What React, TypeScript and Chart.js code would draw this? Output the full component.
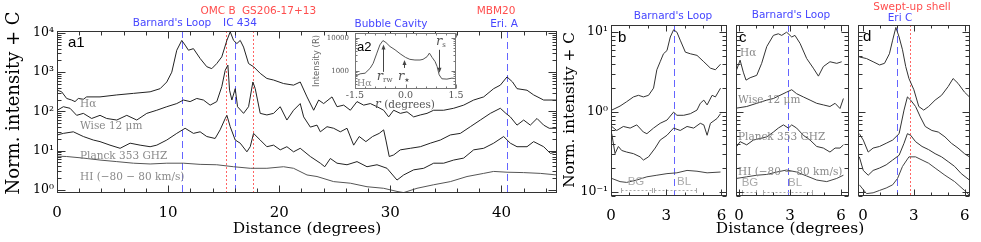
import { useEffect, useRef } from 'react';
import { Chart, registerables } from 'chart.js';
Chart.register(...registerables);

const W = 981;
const H = 242;
const SERIF = 'DejaVu Serif';
const SANS = 'DejaVu Sans';
const HELV = 'Liberation Sans';
const BLUE = '#4646ff';
const RED = '#ff4d4d';
const GRAY = '#8a8a8a';

// ---------- panel a1 (log10 of normalised intensity + C) ----------
const a1HaDist = [0.03, 0.42, 0.87, 1.32, 1.62, 1.92, 2.37, 2.67, 3.87, 5.38, 6.88, 8.38, 9.28, 9.88, 10.33, 10.78, 11.23, 11.53, 11.83, 12.28, 12.88, 13.48, 13.93, 14.38, 14.83, 15.29, 15.59, 15.89, 16.19, 16.49, 16.79, 17.24, 17.69, 18.29, 18.89, 19.49, 20.39, 21.29, 21.89, 22.5, 23.1, 23.55, 24.0, 24.75, 25.2, 25.8, 26.4, 27.0, 27.6, 28.2, 28.8, 29.4, 29.85, 30.3, 30.9, 31.5, 32.1, 32.7, 33.3, 33.9, 34.8, 35.7, 36.6, 37.5, 38.4, 39.3, 39.9, 40.5, 41.0, 41.4, 42.3, 42.9, 43.8, 45.0];
const a1HaLog = [2.54, 2.5, 2.33, 2.29, 2.25, 2.33, 2.31, 2.37, 2.37, 2.42, 2.46, 2.5, 2.58, 2.75, 3.0, 3.56, 3.81, 3.69, 3.56, 3.6, 3.35, 3.14, 3.09, 3.22, 3.39, 3.81, 4.03, 3.81, 3.73, 3.81, 3.64, 3.22, 3.14, 2.97, 2.84, 2.8, 2.71, 2.67, 2.75, 2.37, 2.03, 2.29, 2.2, 2.37, 2.12, 2.16, 2.03, 2.25, 2.16, 2.2, 2.12, 2.03, 1.86, 2.03, 1.95, 1.99, 1.86, 1.91, 1.95, 2.03, 2.03, 2.08, 2.16, 2.29, 2.37, 2.58, 2.67, 2.88, 2.75, 2.58, 2.54, 2.42, 2.29, 2.29];

const a1WiseDist = [0.03, 0.57, 1.17, 1.77, 2.37, 3.12, 3.87, 4.47, 5.38, 6.28, 7.18, 8.08, 8.98, 9.88, 10.78, 11.38, 11.98, 12.58, 13.18, 13.78, 14.38, 14.83, 15.14, 15.38, 15.53, 15.74, 16.04, 16.25, 16.79, 17.24, 17.63, 17.84, 18.29, 18.89, 19.49, 20.09, 20.69, 21.29, 21.89, 22.2, 22.8, 23.4, 23.7, 24.3, 24.9, 25.5, 26.1, 26.7, 27.2, 27.8, 28.4, 29.0, 29.4, 29.6, 29.9, 30.3, 30.9, 31.8, 32.7, 33.6, 34.5, 35.4, 36.3, 37.2, 38.1, 39.0, 39.9, 40.4, 40.8, 41.4, 42.0, 42.6, 43.2, 43.8, 44.3, 45.0];
const a1WiseLog = [2.03, 2.12, 2.08, 1.9, 1.95, 1.82, 1.9, 1.82, 1.78, 1.9, 1.78, 1.95, 2.03, 2.12, 2.2, 2.29, 2.25, 2.33, 2.29, 2.16, 2.25, 2.63, 3.05, 3.18, 2.54, 2.29, 2.58, 2.12, 1.95, 2.12, 2.75, 2.58, 1.95, 1.91, 1.95, 2.12, 1.78, 2.03, 2.2, 1.86, 1.6, 1.65, 1.48, 1.61, 1.57, 1.48, 1.57, 1.14, 1.36, 1.23, 1.36, 1.44, 1.53, 1.27, 0.85, 0.89, 1.02, 1.06, 1.1, 1.19, 1.27, 1.4, 1.44, 1.61, 1.78, 1.95, 2.08, 1.95, 1.86, 1.65, 1.78, 1.65, 1.82, 1.65, 1.57, 1.57];

const a1PlanckDist = [0.03, 0.57, 1.47, 2.37, 3.27, 3.87, 4.77, 5.68, 6.58, 7.48, 8.38, 8.98, 9.88, 10.78, 11.53, 12.28, 12.88, 13.48, 14.23, 14.68, 15.14, 15.29, 15.59, 16.04, 16.49, 17.09, 17.39, 17.69, 18.29, 18.89, 19.49, 20.09, 20.69, 21.29, 21.89, 22.8, 23.7, 24.1, 24.6, 25.2, 26.1, 27.0, 27.9, 28.8, 29.7, 30.6, 31.2, 32.1, 33.0, 33.9, 34.8, 35.7, 36.6, 37.5, 38.4, 39.3, 40.2, 40.8, 41.4, 42.3, 42.9, 43.8, 44.4, 45.0];
const a1PlanckLog = [1.4, 1.44, 1.48, 1.36, 1.27, 1.23, 1.14, 1.06, 1.19, 1.14, 1.1, 1.14, 1.27, 1.44, 1.57, 1.44, 1.48, 1.36, 1.31, 1.53, 1.82, 1.9, 1.61, 1.27, 1.19, 0.97, 1.1, 1.44, 1.27, 1.1, 1.14, 1.02, 1.1, 0.97, 1.06, 0.85, 0.68, 0.59, 0.8, 0.68, 0.64, 0.72, 0.59, 0.64, 0.55, 0.25, 0.38, 0.51, 0.55, 0.68, 0.68, 0.76, 0.81, 1.02, 1.06, 1.19, 1.36, 1.19, 1.1, 1.1, 1.23, 1.1, 0.93, 0.97];

const a1HIDist = [0.03, 0.87, 2.37, 3.87, 5.38, 6.88, 8.38, 9.88, 11.38, 12.88, 14.38, 15.89, 17.39, 18.89, 20.39, 21.29, 22.5, 23.4, 24.9, 26.4, 27.9, 29.4, 30.6, 31.2, 32.4, 33.9, 35.4, 36.9, 38.4, 39.3, 40.5, 42.0, 43.5, 45.0];
const a1HILog = [0.86, 0.85, 0.81, 0.76, 0.72, 0.68, 0.66, 0.68, 0.68, 0.65, 0.64, 0.59, 0.55, 0.55, 0.59, 0.55, 0.38, 0.34, 0.21, 0.17, 0.08, 0.04, -0.04, -0.07, 0.04, 0.13, 0.21, 0.34, 0.42, 0.47, 0.45, 0.44, 0.42, 0.38];

// ---------- inset a2 (log10 of Halpha intensity, R) ----------
const a2R = [-1.5, -1.35, -1.2, -1.05, -0.96, -0.85, -0.76, -0.67, -0.58, -0.46, -0.31, -0.16, 0, 0.13, 0.28, 0.43, 0.52, 0.64, 0.71, 0.79, 0.88, 0.94, 1.0, 1.08, 1.23, 1.38, 1.5];
const a2Log = [2.83, 2.91, 2.93, 3.08, 3.23, 3.54, 3.79, 3.92, 3.86, 3.74, 3.64, 3.52, 3.41, 3.35, 3.33, 3.33, 3.35, 3.43, 3.54, 3.41, 3.28, 3.13, 2.88, 2.76, 2.75, 2.78, 2.76];

// ---------- panel b ----------
const bHaDist = [0.04, 0.49, 0.85, 1.22, 1.49, 1.76, 2.04, 2.31, 2.49, 2.67, 2.85, 3.04, 3.22, 3.4, 3.58, 3.76, 4.04, 4.31, 4.67, 5.04, 5.4, 5.67, 5.95];
const bHaLog = [0.025, 0.075, 0.13, 0.19, 0.21, 0.19, 0.21, 0.3, 0.53, 0.63, 0.73, 0.77, 0.94, 1.03, 1.0, 0.9, 0.75, 0.73, 0.71, 0.63, 0.55, 0.53, 0.6];
const bWiseDist = [0.04, 0.31, 0.67, 1.04, 1.4, 1.76, 1.95, 2.31, 2.67, 3.04, 3.4, 3.58, 3.95, 4.31, 4.67, 4.85, 5.04, 5.22, 5.49, 5.67, 5.95];
const bWiseLog = [-0.18, -0.23, -0.18, -0.2, -0.16, -0.25, -0.27, -0.2, -0.14, -0.1, 0.0, -0.04, -0.04, -0.02, 0.025, 0.11, 0.15, 0.09, 0.21, 0.19, 0.3];
const bPlanckDist = [0.04, 0.22, 0.4, 0.58, 0.85, 1.22, 1.58, 1.76, 2.04, 2.4, 2.67, 3.04, 3.4, 3.76, 4.13, 4.49, 4.85, 5.04, 5.22, 5.4, 5.76, 5.95];
const bPlanckLog = [-0.27, -0.52, -0.43, -0.48, -0.5, -0.52, -0.56, -0.6, -0.56, -0.45, -0.35, -0.29, -0.2, -0.23, -0.18, -0.2, -0.14, -0.16, -0.29, -0.14, -0.08, -0.02];
const bHIDist = [0.04, 0.49, 0.85, 1.4, 1.95, 2.49, 3.04, 3.58, 4.13, 4.67, 5.22, 5.95];
const bHILog = [-0.83, -0.87, -0.88, -0.85, -0.81, -0.79, -0.77, -0.76, -0.73, -0.74, -0.76, -0.75];

// ---------- panel c ----------
const cHaDist = [-0.14, 0.06, 0.25, 0.41, 0.65, 1.04, 1.33, 1.63, 2.02, 2.31, 2.51, 2.8, 3.1, 3.29, 3.59, 3.98, 4.37, 4.67, 4.96, 5.35, 5.75, 6.04];
const cHaLog = [0.53, 0.65, 0.5, 0.4, 0.43, 0.46, 0.61, 0.82, 0.96, 0.98, 0.96, 1.0, 0.94, 0.96, 0.86, 0.67, 0.55, 0.45, 0.57, 0.63, 0.61, 0.63];
const cWiseDist = [-0.14, 0.45, 1.04, 1.63, 2.02, 2.41, 2.8, 3.1, 3.39, 3.78, 4.18, 4.57, 4.96, 5.35, 5.65, 5.94, 6.14];
const cWiseLog = [0.05, 0.07, 0.11, 0.15, 0.17, 0.21, 0.25, 0.28, 0.23, 0.19, 0.15, 0.11, 0.09, 0.07, 0.11, 0.045, 0.17];
const cPlanckDist = [-0.14, 0.06, 0.45, 0.84, 1.24, 1.63, 2.02, 2.31, 2.61, 2.9, 3.1, 3.39, 3.78, 4.18, 4.57, 4.96, 5.35, 5.65, 5.94, 6.14];
const cPlanckLog = [-0.43, -0.37, -0.41, -0.35, -0.33, -0.31, -0.25, -0.2, -0.16, -0.2, -0.16, -0.2, -0.29, -0.35, -0.43, -0.45, -0.5, -0.45, -0.45, -0.41];
const cHIDist = [-0.14, 0.45, 1.04, 1.63, 2.22, 2.8, 3.39, 3.98, 4.57, 5.16, 5.75, 6.14];
const cHILog = [-0.83, -0.81, -0.79, -0.78, -0.75, -0.725, -0.75, -0.8, -0.85, -0.87, -0.83, -0.79];

// ---------- panel d ----------
const dHaDist = [-0.21, 0.21, 0.6, 0.98, 1.27, 1.56, 1.75, 1.94, 2.13, 2.33, 2.52, 2.71, 3.0, 3.29, 3.58, 3.87, 4.25, 4.63, 5.02, 5.31, 5.6, 5.98, 6.27];
const dHaLog = [0.69, 0.67, 0.63, 0.59, 0.61, 0.73, 0.9, 1.06, 0.94, 0.78, 0.57, 0.42, 0.28, 0.07, 0.025, 0.07, 0.15, 0.21, 0.32, 0.42, 0.36, 0.25, 0.19];
const dWiseDist = [-0.21, 0.02, 0.31, 0.6, 0.98, 1.37, 1.75, 2.13, 2.42, 2.62, 2.81, 3.1, 3.38, 3.67, 4.06, 4.44, 4.83, 5.21, 5.6, 5.98, 6.27];
const dWiseLog = [-0.27, -0.35, -0.5, -0.45, -0.43, -0.39, -0.35, -0.27, 0.025, 0.19, 0.15, 0.07, -0.06, -0.18, -0.23, -0.25, -0.31, -0.39, -0.45, -0.52, -0.56];
const dPlanckDist = [-0.21, 0.02, 0.31, 0.6, 0.98, 1.37, 1.75, 2.13, 2.42, 2.62, 2.81, 3.1, 3.48, 3.87, 4.25, 4.63, 5.02, 5.4, 5.79, 6.27];
const dPlanckLog = [-0.56, -0.73, -0.79, -0.73, -0.7, -0.66, -0.6, -0.54, -0.39, -0.27, -0.29, -0.37, -0.43, -0.47, -0.52, -0.56, -0.62, -0.68, -0.77, -0.85];
const dHIDist = [-0.21, 0.21, 0.6, 0.98, 1.37, 1.75, 2.04, 2.33, 2.71, 3.1, 3.48, 3.87, 4.25, 4.83, 5.4, 5.98, 6.27];
const dHILog = [-0.91, -1.02, -1.01, -0.98, -0.95, -0.91, -0.83, -0.68, -0.56, -0.56, -0.6, -0.64, -0.7, -0.79, -0.87, -0.98, -1.04];

// ---------- ticks & marker positions ----------
const a1XTicks = [0, 10, 20, 30, 40];
const a1YTicks = [1, 10, 100, 1000, 10000];
const a2XTicks = [-1.5, 0, 1.5];
const a2YTicks = [1000, 10000];
const bcdXTicks = [0, 3, 6];
const bcdYTicks = [0.1, 1, 10];
const a1Blue = [11.25, 16.0, 40.5];
const a1Red = [15.2, 17.6];
const bBlue = [3.4];
const cBlue = [2.9];
const dBlue = [2.0];
const dRed = [2.8];
const bRanges = [[0.54, 2.23], [2.34, 4.6]];
const cRanges = [[0.18, 1.0], [1.4, 4.3]];

const SUP: Record<string, string> = { '-': '⁻', '0': '⁰', '1': '¹', '2': '²', '3': '³', '4': '⁴', '5': '⁵' };
const powLabel = (v: number) => '10' + String(Math.round(Math.log10(v))).split('').map((c) => SUP[c]).join('');

function series(xs: number[], logs: number[], color: string) {
  return {
    data: xs.map((x, i) => ({ x, y: Math.pow(10, logs[i]) })),
    borderColor: color,
    borderWidth: 1,
    pointRadius: 0,
    tension: 0,
    fill: false,
  };
}

// Decorations are kept in a closure (not in chart options) so Chart.js does not proxy them.
function makePlugins(cfg: any) {
  return [
    {
      id: 'frameDeco',
      beforeDraw(chart: any) {
        const f = cfg.frame;
        if (!f.bg) return;
        const { ctx, chartArea: a } = chart;
        ctx.save();
        ctx.fillStyle = f.bg;
        ctx.fillRect(a.left, a.top, a.right - a.left, a.bottom - a.top);
        ctx.restore();
      },
      beforeDatasetsDraw(chart: any) {
        const { ctx, chartArea: a, scales } = chart;
        ctx.save();
        for (const l of cfg.lines || []) {
          const p = Math.round(scales.x.getPixelForValue(l.x)) + 0.5;
          ctx.strokeStyle = l.color;
          ctx.lineWidth = 1;
          ctx.setLineDash(l.dash);
          ctx.beginPath();
          ctx.moveTo(p, a.top);
          ctx.lineTo(p, a.bottom);
          ctx.stroke();
        }
        ctx.restore();
      },
      afterDatasetsDraw(chart: any) {
        const { ctx, scales } = chart;
        ctx.save();
        ctx.lineWidth = 1;
        ctx.strokeStyle = '#aaa';
        for (const r of cfg.ranges || []) {
          const x0 = Math.round(scales.x.getPixelForValue(r[0])) + 0.5;
          const x1 = Math.round(scales.x.getPixelForValue(r[1])) + 0.5;
          const y = Math.round(scales.y.getPixelForValue(Math.pow(10, cfg.rangeLog))) + 0.5;
          ctx.setLineDash([2, 2]);
          ctx.beginPath();
          ctx.moveTo(x0, y);
          ctx.lineTo(x1, y);
          ctx.stroke();
          ctx.setLineDash([]);
          ctx.beginPath();
          ctx.moveTo(x0, y - 2.5);
          ctx.lineTo(x0, y + 2.5);
          ctx.moveTo(x1, y - 2.5);
          ctx.lineTo(x1, y + 2.5);
          ctx.stroke();
        }
        ctx.strokeStyle = '#444';
        ctx.fillStyle = '#444';
        for (const r of cfg.arrows || []) {
          const x = Math.round(scales.x.getPixelForValue(r.x)) + 0.5;
          const y0 = scales.y.getPixelForValue(Math.pow(10, r.from));
          const y1 = scales.y.getPixelForValue(Math.pow(10, r.to));
          const dir = y1 < y0 ? 1 : -1;
          ctx.beginPath();
          ctx.moveTo(x, y0);
          ctx.lineTo(x, y1 + dir * 4);
          ctx.stroke();
          ctx.beginPath();
          ctx.moveTo(x, y1);
          ctx.lineTo(x - 2, y1 + dir * 5);
          ctx.lineTo(x + 2, y1 + dir * 5);
          ctx.closePath();
          ctx.fill();
        }
        ctx.restore();
      },
      afterDraw(chart: any) {
        const f = cfg.frame;
        const { ctx, chartArea: a, scales } = chart;
        const xs = scales.x;
        const ys = scales.y;
        ctx.save();
        ctx.strokeStyle = f.color;
        ctx.lineWidth = 1;
        const L = Math.round(a.left) + 0.5;
        const R = Math.round(a.right) - 0.5;
        const T = Math.round(a.top) + 0.5;
        const B = Math.round(a.bottom) - 0.5;
        ctx.strokeRect(L, T, R - L, B - T);
        ctx.beginPath();
        const n0 = Math.ceil(xs.min / f.xMinor - 1e-6);
        const n1 = Math.floor(xs.max / f.xMinor + 1e-6);
        for (let n = n0; n <= n1; n++) {
          const v = n * f.xMinor;
          const r = v / f.xMajor;
          const len = Math.abs(r - Math.round(r)) < 1e-6 ? f.xMajorLen : f.xMinorLen;
          const p = Math.round(xs.getPixelForValue(v)) + 0.5;
          ctx.moveTo(p, B);
          ctx.lineTo(p, B - len);
          ctx.moveTo(p, T);
          ctx.lineTo(p, T + len);
        }
        const e0 = Math.floor(Math.log10(ys.min));
        const e1 = Math.ceil(Math.log10(ys.max));
        for (let e = e0; e <= e1; e++) {
          for (let k = 1; k < 10; k++) {
            const v = k * Math.pow(10, e);
            if (v < ys.min || v > ys.max) continue;
            const len = k === 1 ? f.yMajorLen : f.yMinorLen;
            const p = Math.round(ys.getPixelForValue(v)) + 0.5;
            ctx.moveTo(L, p);
            ctx.lineTo(L + len, p);
            ctx.moveTo(R, p);
            ctx.lineTo(R - len, p);
          }
        }
        ctx.stroke();
        ctx.restore();

        for (const it of cfg.texts || []) {
          ctx.save();
          const parts = it.parts || [{ t: it.text }];
          ctx.fillStyle = it.color || '#000';
          ctx.textBaseline = 'middle';
          ctx.textAlign = 'left';
          const widths = parts.map((p: any) => {
            ctx.font = p.font || it.font;
            return ctx.measureText(p.t).width;
          });
          const total = widths.reduce((s: number, w: number) => s + w, 0);
          const x = it.xData ? xs.getPixelForValue(it.x) : it.x;
          ctx.translate(x, it.y);
          if (it.rotate) ctx.rotate((it.rotate * Math.PI) / 180);
          let cx = it.align === 'center' ? -total / 2 : it.align === 'right' ? -total : 0;
          parts.forEach((p: any, i: number) => {
            ctx.font = p.font || it.font;
            ctx.fillText(p.t, cx, p.dy || 0);
            cx += widths[i];
          });
          ctx.restore();
        }
      },
    },
  ];
}

const blueLine = (x: number) => ({ x, color: '#6464ff', dash: [7, 4] });
const redLine = (x: number) => ({ x, color: '#ff6464', dash: [2, 2] });

const lbl = (text: string, x: number, y: number, color: string) => ({
  text, x, y, color, align: 'center', font: `10.5px ${SANS}`,
});
const grayLbl = (text: string, x: number, y: number) => ({
  text, x, y, color: GRAY, align: 'left', font: `10.5px ${SERIF}`,
});

function baseOptions(pad: any, xCfg: any, yCfg: any) {
  return {
    responsive: false,
    maintainAspectRatio: false,
    animation: false,
    devicePixelRatio: 1,
    layout: { padding: pad },
    plugins: { legend: { display: false }, tooltip: { enabled: false } },
    scales: { x: xCfg, y: yCfg },
  };
}

function xAxis(min: number, max: number, ticks: number[], size: number, pad: number, height: number, dec = 0, color = '#000') {
  return {
    type: 'linear',
    min,
    max,
    grid: { display: false, drawTicks: false },
    border: { display: false },
    afterBuildTicks: (s: any) => {
      s.ticks = ticks.map((v) => ({ value: v }));
    },
    afterFit: (s: any) => {
      s.height = height;
    },
    ticks: {
      autoSkip: false,
      maxRotation: 0,
      padding: pad,
      color,
      font: { family: SERIF, size },
      callback: (v: any) => (dec ? Number(v).toFixed(dec) : String(v)),
    },
  };
}

function yAxis(min: number, max: number, ticks: number[], size: number, pad: number, width: number, display = true, plain = false, color = '#000') {
  return {
    type: 'logarithmic',
    min,
    max,
    display,
    grid: { display: false, drawTicks: false },
    border: { display: false },
    afterBuildTicks: (s: any) => {
      s.ticks = ticks.map((v) => ({ value: v }));
    },
    afterFit: (s: any) => {
      s.width = width;
    },
    ticks: {
      padding: pad,
      color,
      font: { family: SERIF, size },
      callback: (v: any) => (plain ? String(v) : powLabel(Number(v))),
    },
  };
}

const BCD_MIN = Math.pow(10, -1.05);
const BCD_MAX = Math.pow(10, 1.09);
const bcdFrame = { color: '#333', xMinor: 1, xMajor: 3, xMajorLen: 6, xMinorLen: 3, yMajorLen: 7, yMinorLen: 4 };

export default function App() {
  const r0 = useRef<HTMLCanvasElement>(null);
  const r1 = useRef<HTMLCanvasElement>(null);
  const r2 = useRef<HTMLCanvasElement>(null);
  const r3 = useRef<HTMLCanvasElement>(null);
  const r4 = useRef<HTMLCanvasElement>(null);

  useEffect(() => {
    document.body.style.margin = '0';
    const charts: Chart[] = [];

    // a1
    charts.push(
      new Chart(r0.current as HTMLCanvasElement, {
        type: 'line',
        data: {
          datasets: [
            series(a1HaDist, a1HaLog, '#222'),
            series(a1WiseDist, a1WiseLog, '#222'),
            series(a1PlanckDist, a1PlanckLog, '#222'),
            series(a1HIDist, a1HILog, '#555'),
          ] as any,
        },
        options: baseOptions(
          { left: 0, top: 31, right: W - 557, bottom: 0 },
          xAxis(0, 45, a1XTicks, 15, 11, 49),
          yAxis(Math.pow(10, -0.08), Math.pow(10, 4.05), a1YTicks, 12.5, 3, 57)
        ) as any,
        plugins: makePlugins({
          frame: { color: '#333', xMinor: 2, xMajor: 10, xMajorLen: 7, xMinorLen: 4, yMajorLen: 8, yMinorLen: 4 },
          lines: [...a1Blue.map((x) => blueLine(x)), ...a1Red.map((x) => redLine(x))],
          texts: [
            lbl('OMC B', 218, 11, RED),
            lbl('GS206-17+13', 279, 11, RED),
            lbl("Barnard's Loop", 172, 23, BLUE),
            lbl('IC 434', 240, 23, BLUE),
            lbl('Bubble Cavity', 391, 24, BLUE),
            lbl('MBM20', 496, 11, RED),
            lbl('Eri. A', 504, 24, BLUE),
            grayLbl('Hα', 80, 104),
            grayLbl('Wise 12 μm', 80, 126),
            grayLbl('Planck 353 GHZ', 80, 156),
            grayLbl('HI (−80 − 80 km/s)', 80, 177),
            { text: 'a1', x: 68, y: 43, color: '#000', align: 'left', font: `15px ${HELV}` },
            { text: 'Distance (degrees)', x: 307, y: 229, color: '#000', align: 'center', font: `15.5px ${SERIF}` },
            { text: 'Norm. intensity + C', x: 14, y: 103, rotate: -90, color: '#000', align: 'center', font: `18px ${SERIF}` },
          ],
        }) as any,
      })
    );

    // a2 inset
    charts.push(
      new Chart(r1.current as HTMLCanvasElement, {
        type: 'line',
        data: { datasets: [series(a2R, a2Log, '#555')] as any },
        options: baseOptions(
          { left: 311, top: 33, right: W - 456, bottom: 127 },
          xAxis(-1.5, 1.5, a2XTicks, 9.5, 1, 26, 1, '#555'),
          yAxis(Math.pow(10, 2.45), Math.pow(10, 4.15), a2YTicks, 7, 6, 44, true, true, '#555')
        ) as any,
        plugins: makePlugins({
          frame: { bg: '#fff', color: '#777', xMinor: 0.3, xMajor: 1.5, xMajorLen: 4, xMinorLen: 2, yMajorLen: 4, yMinorLen: 2 },
          arrows: [
            { x: -0.67, from: 2.97, to: 3.8 },
            { x: -0.05, from: 3.09, to: 3.33 },
            { x: 1.0, from: 3.64, to: 2.94 },
          ],
          texts: [
            { text: 'a2', x: 357, y: 47, color: '#000', align: 'left', font: `13px ${HELV}` },
            { text: 'Hα', x: 357, y: 84, color: GRAY, align: 'left', font: `9.5px ${SERIF}` },
            {
              x: -0.62, xData: true, y: 77, color: '#555', align: 'center',
              parts: [
                { t: 'r', font: `italic 13px ${SERIF}` },
                { t: 'rw', font: `7px ${SERIF}`, dy: 3 },
              ],
            },
            {
              x: -0.05, xData: true, y: 77, color: '#555', align: 'center',
              parts: [
                { t: 'r', font: `italic 13px ${SERIF}` },
                { t: '★', font: `6px ${SANS}`, dy: 3 },
              ],
            },
            {
              x: 1.05, xData: true, y: 42, color: '#555', align: 'center',
              parts: [
                { t: 'r', font: `italic 13px ${SERIF}` },
                { t: 's', font: `7px ${SERIF}`, dy: 3 },
              ],
            },
            {
              x: 405, y: 105, color: '#555', align: 'center',
              parts: [
                { t: 'r', font: `italic 12px ${SERIF}` },
                { t: ' (degrees)', font: `10.5px ${SERIF}` },
              ],
            },
            { text: 'Intensity (R)', x: 317, y: 61, rotate: -90, color: '#666', align: 'center', font: `8.5px ${SANS}` },
          ],
        }) as any,
      })
    );

    // b
    charts.push(
      new Chart(r2.current as HTMLCanvasElement, {
        type: 'line',
        data: {
          datasets: [
            series(bHaDist, bHaLog, '#333'),
            series(bWiseDist, bWiseLog, '#333'),
            series(bPlanckDist, bPlanckLog, '#333'),
            series(bHIDist, bHILog, '#444'),
          ] as any,
        },
        options: baseOptions(
          { left: 561, top: 25, right: W - 727, bottom: 0 },
          xAxis(0, 6.3, bcdXTicks, 15, 11, 46),
          yAxis(BCD_MIN, BCD_MAX, bcdYTicks, 12.5, 3, 50)
        ) as any,
        plugins: makePlugins({
          frame: bcdFrame,
          lines: bBlue.map((x) => blueLine(x)),
          ranges: bRanges,
          rangeLog: -0.975,
          texts: [
            lbl("Barnard's Loop", 673, 16, BLUE),
            { text: 'b', x: 618, y: 38, color: '#000', align: 'left', font: `15px ${HELV}` },
            { text: 'BG', x: 636, y: 182, color: '#aaa', align: 'center', font: `11.5px ${HELV}` },
            { text: 'BL', x: 684, y: 182, color: '#aaa', align: 'center', font: `11.5px ${HELV}` },
            { text: 'Norm. intensity + C', x: 570, y: 110, rotate: -90, color: '#000', align: 'center', font: `15.3px ${SERIF}` },
          ],
        }) as any,
      })
    );

    // c
    charts.push(
      new Chart(r3.current as HTMLCanvasElement, {
        type: 'line',
        data: {
          datasets: [
            series(cHaDist, cHaLog, '#333'),
            series(cWiseDist, cWiseLog, '#333'),
            series(cPlanckDist, cPlanckLog, '#333'),
            series(cHIDist, cHILog, '#444'),
          ] as any,
        },
        options: baseOptions(
          { left: 736, top: 25, right: W - 849, bottom: 0 },
          xAxis(-0.18, 6.47, bcdXTicks, 15, 11, 46),
          yAxis(BCD_MIN, BCD_MAX, bcdYTicks, 12.5, 3, 0, false)
        ) as any,
        plugins: makePlugins({
          frame: bcdFrame,
          lines: cBlue.map((x) => blueLine(x)),
          ranges: cRanges,
          rangeLog: -1.0,
          texts: [
            lbl("Barnard's Loop", 791, 15, BLUE),
            { text: 'c', x: 739, y: 38, color: '#000', align: 'left', font: `15px ${HELV}` },
            grayLbl('Hα', 740, 53),
            grayLbl('Wise 12 μm', 738, 100),
            grayLbl('Planck 353 GHZ', 738, 137),
            grayLbl('HI (−80 − 80 km/s)', 738, 172),
            { text: 'BG', x: 750, y: 183, color: '#aaa', align: 'center', font: `11.5px ${HELV}` },
            { text: 'BL', x: 795, y: 183, color: '#aaa', align: 'center', font: `11.5px ${HELV}` },
            { text: 'Distance (degrees)', x: 790, y: 229, color: '#000', align: 'center', font: `15.5px ${SERIF}` },
          ],
        }) as any,
      })
    );

    // d
    charts.push(
      new Chart(r4.current as HTMLCanvasElement, {
        type: 'line',
        data: {
          datasets: [
            series(dHaDist, dHaLog, '#333'),
            series(dWiseDist, dWiseLog, '#333'),
            series(dPlanckDist, dPlanckLog, '#333'),
            series(dHIDist, dHILog, '#444'),
          ] as any,
        },
        options: baseOptions(
          { left: 858, top: 25, right: W - 972, bottom: 0 },
          xAxis(-0.29, 6.3, bcdXTicks, 15, 11, 46),
          yAxis(BCD_MIN, BCD_MAX, bcdYTicks, 12.5, 3, 0, false)
        ) as any,
        plugins: makePlugins({
          frame: bcdFrame,
          lines: [...dBlue.map((x) => blueLine(x)), ...dRed.map((x) => redLine(x))],
          texts: [
            lbl('Swept-up shell', 912, 7, RED),
            lbl('Eri C', 900, 18, BLUE),
            { text: 'd', x: 863, y: 37, color: '#000', align: 'left', font: `15px ${HELV}` },
          ],
        }) as any,
      })
    );

    return () => charts.forEach((c) => c.destroy());
  }, []);

  const cs: any = { position: 'absolute', left: 0, top: 0, width: W, height: H };
  return (
    <div style={{ position: 'relative', width: W, height: H, background: '#fff', overflow: 'hidden' }}>
      <canvas ref={r0} width={W} height={H} style={cs} />
      <canvas ref={r1} width={W} height={H} style={cs} />
      <canvas ref={r2} width={W} height={H} style={cs} />
      <canvas ref={r3} width={W} height={H} style={cs} />
      <canvas ref={r4} width={W} height={H} style={cs} />
    </div>
  );
}
